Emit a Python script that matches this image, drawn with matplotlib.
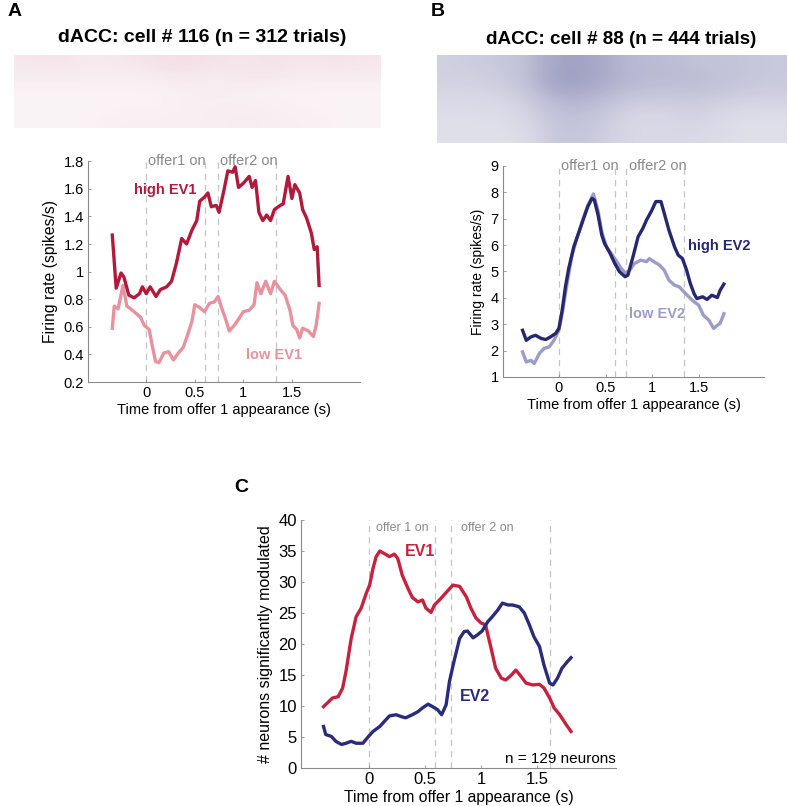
import numpy as np
import matplotlib
matplotlib.use("Agg")
from matplotlib import pyplot as plt
from matplotlib.colors import LinearSegmentedColormap

plt.rcParams['font.family'] = ['Liberation Sans', 'DejaVu Sans']

# ---- panel A: dACC cell 116 ----
tA_high = [-0.35, -0.31, -0.26, -0.23, -0.18, -0.125, -0.07, -0.04, 0.0, 0.04, 0.1, 0.145,
           0.21, 0.26, 0.31, 0.365, 0.415, 0.47, 0.52, 0.55, 0.6, 0.635, 0.67, 0.72, 0.75,
           0.8, 0.84, 0.89, 0.915, 0.95, 1.0, 1.06, 1.09, 1.125, 1.16, 1.2, 1.24, 1.28,
           1.32, 1.38, 1.41, 1.46, 1.5, 1.53, 1.58, 1.61, 1.65, 1.7, 1.73, 1.76, 1.78]
high_EV1 = [1.265, 0.88, 0.99, 0.96, 0.83, 0.81, 0.84, 0.89, 0.84, 0.89, 0.82, 0.87,
            0.89, 0.93, 1.06, 1.24, 1.2, 1.3, 1.37, 1.51, 1.54, 1.57, 1.47, 1.48, 1.43,
            1.59, 1.73, 1.72, 1.76, 1.61, 1.64, 1.69, 1.61, 1.66, 1.43, 1.37, 1.41, 1.37,
            1.45, 1.48, 1.49, 1.69, 1.53, 1.63, 1.57, 1.45, 1.39, 1.28, 1.16, 1.18, 0.9]
tA_low = [-0.35, -0.33, -0.29, -0.24, -0.2, -0.16, -0.11, -0.06, -0.02, 0.03, 0.06, 0.095,
          0.13, 0.18, 0.23, 0.28, 0.33, 0.38, 0.43, 0.47, 0.5, 0.55, 0.6, 0.65, 0.7, 0.74,
          0.77, 0.82, 0.855, 0.905, 0.955, 1.0, 1.06, 1.11, 1.14, 1.18, 1.23, 1.28, 1.32,
          1.38, 1.43, 1.48, 1.51, 1.55, 1.58, 1.61, 1.67, 1.72, 1.75, 1.78]
low_EV1 = [0.59, 0.75, 0.73, 0.9, 0.75, 0.73, 0.70, 0.67, 0.61, 0.58, 0.47, 0.35,
           0.34, 0.41, 0.42, 0.36, 0.41, 0.45, 0.55, 0.64, 0.76, 0.74, 0.71, 0.77, 0.78, 0.82,
           0.75, 0.65, 0.57, 0.61, 0.66, 0.71, 0.72, 0.76, 0.92, 0.84, 0.93, 0.84, 0.93,
           0.87, 0.83, 0.72, 0.61, 0.58, 0.52, 0.59, 0.57, 0.53, 0.61, 0.77]

# ---- panel B: dACC cell 88 ----
tB_high = [-0.39, -0.35, -0.3, -0.25, -0.19, -0.14, -0.09, -0.035, 0.0, 0.035, 0.07, 0.105,
           0.16, 0.21, 0.265, 0.31, 0.355, 0.38, 0.42, 0.46, 0.49, 0.55, 0.6, 0.65, 0.71,
           0.74, 0.795, 0.85, 0.9, 0.94, 0.99, 1.04, 1.095, 1.14, 1.18, 1.24, 1.28, 1.325,
           1.37, 1.41, 1.45, 1.48, 1.54, 1.59, 1.64, 1.7, 1.73, 1.77]
high_EV2 = [2.77, 2.39, 2.52, 2.58, 2.46, 2.42, 2.52, 2.65, 2.84, 3.53, 4.42, 5.11,
            5.94, 6.44, 7.01, 7.46, 7.77, 7.71, 7.14, 6.38, 6.06, 5.68, 5.3, 4.99, 4.8,
            4.86, 5.56, 6.32, 6.63, 6.95, 7.27, 7.65, 7.65, 7.08, 6.57, 5.94, 5.62, 5.49,
            5.05, 4.54, 4.16, 3.97, 4.04, 3.94, 4.1, 4.01, 4.29, 4.52]
tB_low = [-0.39, -0.35, -0.3, -0.265, -0.21, -0.16, -0.105, -0.053, 0.0, 0.035, 0.088,
          0.14, 0.2, 0.26, 0.31, 0.37, 0.42, 0.46, 0.51, 0.6, 0.67, 0.72, 0.76, 0.81, 0.88,
          0.94, 0.97, 1.02, 1.08, 1.13, 1.18, 1.24, 1.29, 1.36, 1.43, 1.5, 1.55, 1.61, 1.66,
          1.7, 1.73, 1.77]
low_EV2 = [1.95, 1.57, 1.63, 1.51, 1.89, 2.08, 2.14, 2.39, 2.77, 3.4, 4.54,
           5.6, 6.35, 7.0, 7.5, 7.94, 7.3, 6.5, 5.94, 5.49, 5.11, 4.92, 5.05, 5.3, 5.43,
           5.37, 5.49, 5.37, 5.24, 5.05, 4.67, 4.48, 4.42, 4.16, 3.91, 3.72, 3.34, 3.15, 2.84,
           2.96, 3.03, 3.4]

# ---- panel C: population counts ----
tC_ev1 = [-0.4, -0.36, -0.32, -0.27, -0.23, -0.2, -0.154, -0.11, -0.065, -0.02, 0.01, 0.04,
          0.068, 0.1, 0.14, 0.186, 0.23, 0.26, 0.3, 0.35, 0.39, 0.44, 0.48, 0.51, 0.556,
          0.586, 0.63, 0.69, 0.75, 0.81, 0.87, 0.91, 0.955, 1.0, 1.04, 1.09, 1.13, 1.18,
          1.22, 1.27, 1.31, 1.355, 1.4, 1.46, 1.52, 1.56, 1.61, 1.65, 1.7, 1.75, 1.8]
ev1_count = [9.9, 10.6, 11.3, 11.5, 12.9, 15.6, 20.9, 24.4, 25.8, 28.2, 29.5, 32.2,
             34.1, 35.0, 34.6, 34.1, 34.5, 33.8, 31.1, 29.0, 27.5, 26.8, 27.1, 25.8, 25.1,
             26.3, 27.1, 28.3, 29.5, 29.3, 27.6, 25.8, 24.2, 23.4, 23.1, 19.3, 16.1, 14.5,
             14.2, 15.0, 15.8, 14.8, 13.7, 13.4, 13.5, 12.9, 11.3, 9.7, 8.6, 7.2, 5.9]
tC_ev2 = [-0.4, -0.38, -0.33, -0.29, -0.24, -0.2, -0.154, -0.11, -0.05, 0.0, 0.04, 0.1,
          0.14, 0.186, 0.245, 0.29, 0.33, 0.39, 0.44, 0.48, 0.53, 0.57, 0.615, 0.65, 0.69,
          0.72, 0.76, 0.81, 0.85, 0.88, 0.93, 0.97, 1.01, 1.06, 1.1, 1.15, 1.19, 1.24, 1.28,
          1.34, 1.385, 1.43, 1.47, 1.52, 1.56, 1.61, 1.64, 1.68, 1.72, 1.77, 1.8]
ev2_count = [6.7, 5.4, 5.1, 4.3, 3.8, 4.0, 4.3, 4.0, 4.0, 5.1, 5.9, 6.7,
             7.5, 8.4, 8.6, 8.3, 8.1, 8.6, 9.1, 9.7, 10.3, 9.9, 9.4, 8.6, 10.2,
             14.0, 17.2, 20.9, 22.0, 22.1, 21.0, 21.5, 22.1, 23.6, 24.4, 25.5, 26.6, 26.3, 26.3,
             26.0, 25.0, 23.1, 21.2, 19.6, 16.6, 13.7, 13.4, 14.5, 16.1, 17.2, 17.8]

# raster spike density, rough grid (rows top->bottom)
rasterA = [[0.10, 0.12, 0.08, 0.10, 0.12, 0.14, 0.12, 0.10, 0.12, 0.10, 0.12, 0.10],
           [0.08, 0.08, 0.08, 0.07, 0.08, 0.10, 0.08, 0.10, 0.10, 0.08, 0.08, 0.08],
           [0.05, 0.05, 0.05, 0.05, 0.05, 0.07, 0.07, 0.07, 0.05, 0.05, 0.05, 0.05],
           [0.05, 0.05, 0.05, 0.05, 0.05, 0.07, 0.07, 0.07, 0.07, 0.05, 0.05, 0.05],
           [0.05, 0.05, 0.05, 0.07, 0.07, 0.07, 0.07, 0.08, 0.07, 0.07, 0.05, 0.05]]
rasterB = [[0.22, 0.25, 0.28, 0.45, 0.42, 0.32, 0.32, 0.28, 0.28, 0.25],
           [0.22, 0.22, 0.28, 0.48, 0.42, 0.34, 0.32, 0.32, 0.28, 0.25],
           [0.18, 0.18, 0.22, 0.36, 0.34, 0.25, 0.25, 0.25, 0.22, 0.22],
           [0.15, 0.15, 0.18, 0.30, 0.28, 0.18, 0.18, 0.22, 0.15, 0.15],
           [0.15, 0.15, 0.15, 0.28, 0.25, 0.18, 0.18, 0.18, 0.15, 0.15]]

red_dark = '#b21a3c'
red_light = '#e8929e'
navy = '#26286f'
lav = '#9c9cca'
c_red = '#c8213d'
c_navy = '#2b2b7c'
gray = '#8a8a8a'
dash_col = '#c4c4c4'

fig = plt.figure(figsize=(7.88, 8.06), dpi=100)


def style_ax(ax, lsize=10.5):
    for s in ['top', 'right']:
        ax.spines[s].set_visible(False)
    for s in ['left', 'bottom']:
        ax.spines[s].set_color(gray)
        ax.spines[s].set_linewidth(0.8)
    ax.tick_params(direction='in', length=2, width=0.6, color=gray,
                   labelsize=lsize, pad=3)
    ax.set_xlim(-0.6, 2.2)
    ax.set_xticks([0, 0.5, 1, 1.5])
    ax.set_xticklabels(['0', '0.5', '1', '1.5'])


def raster(rect, grid, color):
    ax = fig.add_axes(rect)
    cmap = LinearSegmentedColormap.from_list('r', ['white', color])
    ax.imshow(np.array(grid), cmap=cmap, vmin=0, vmax=1, aspect='auto',
              interpolation='bicubic')
    ax.axis('off')
    return ax


# panel A
raster([0.018, 0.841, 0.4645, 0.0906], rasterA, '#a01040')
fig.text(202 / 788, 1 - 38 / 806, 'dACC: cell # 116 (n = 312 trials)', ha='center',
         va='center', fontsize=14, fontweight='bold')
axA = fig.add_axes([0.1117, 0.526, 0.345, 0.274])
style_ax(axA)
axA.set_ylim(0.2, 1.8)
axA.set_yticks(np.arange(0.2, 1.81, 0.2))
axA.set_yticklabels(['0.2', '0.4', '0.6', '0.8', '1', '1.2', '1.4', '1.6', '1.8'])
for v in [0, 0.6, 0.74, 1.34]:
    axA.axvline(v, color=dash_col, lw=0.9, ls=(0, (5, 4)), zorder=0)
axA.plot(tA_low, low_EV1, color=red_light, lw=2.4)
axA.plot(tA_high, high_EV1, color=red_dark, lw=2.4)
axA.text(0.015, 1.8, 'offer1 on', color=gray, fontsize=10.5, va='center')
axA.text(0.755, 1.8, 'offer2 on', color=gray, fontsize=10.5, va='center')
axA.text(-0.13, 1.59, 'high EV1', color=red_dark, fontsize=10.5, fontweight='bold',
         va='center')
axA.text(1.03, 0.395, 'low EV1', color=red_light, fontsize=10.5, fontweight='bold',
         va='center')
axA.set_ylabel('Firing rate (spikes/s)', fontsize=11.3)
axA.set_xlabel('Time from offer 1 appearance (s)', fontsize=10.5, labelpad=2)

# panel B
raster([0.5546, 0.8226, 0.444, 0.109], rasterB, '#2a2a78')
fig.text(621 / 788, 1 - 40 / 806, 'dACC: cell # 88 (n = 444 trials)', ha='center',
         va='center', fontsize=13.6, fontweight='bold')
axB = fig.add_axes([0.6383, 0.5323, 0.3312, 0.2618])
style_ax(axB)
axB.set_ylim(1, 9)
axB.set_yticks(range(1, 10))
for v in [0, 0.6, 0.72, 1.34]:
    axB.axvline(v, color=dash_col, lw=0.9, ls=(0, (5, 4)), zorder=0)
axB.plot(tB_low, low_EV2, color=lav, lw=2.4)
axB.plot(tB_high, high_EV2, color=navy, lw=2.4)
axB.text(0.02, 9, 'offer1 on', color=gray, fontsize=10.5, va='center')
axB.text(0.75, 9, 'offer2 on', color=gray, fontsize=10.5, va='center')
axB.text(1.38, 5.95, 'high EV2', color=navy, fontsize=10.5, fontweight='bold',
         va='center')
axB.text(0.75, 3.4, 'low EV2', color=lav, fontsize=10.5, fontweight='bold',
         va='center')
axB.set_ylabel('Firing rate (spikes/s)', fontsize=10)
axB.set_xlabel('Time from offer 1 appearance (s)', fontsize=10.5, labelpad=2)

# panel C
axC = fig.add_axes([0.382, 0.0471, 0.3997, 0.3077])
style_ax(axC, lsize=12)
axC.set_ylim(0, 40)
axC.set_yticks(range(0, 41, 5))
for v in [0, 0.59, 0.73, 1.61]:
    axC.axvline(v, color=dash_col, lw=0.9, ls=(0, (5, 4)), zorder=0)
axC.plot(tC_ev1, ev1_count, color=c_red, lw=2.4)
axC.plot(tC_ev2, ev2_count, color=c_navy, lw=2.4)
axC.text(0.07, 38.7, 'offer 1 on', color=gray, fontsize=9, va='center')
axC.text(0.82, 38.7, 'offer 2 on', color=gray, fontsize=9, va='center')
axC.text(0.32, 35.0, 'EV1', color=c_red, fontsize=11.5, fontweight='bold', va='center')
axC.text(0.81, 11.5, 'EV2', color=c_navy, fontsize=11.5, fontweight='bold', va='center')
axC.text(2.2, 1.5, 'n = 129 neurons', ha='right', fontsize=11, va='center')
axC.set_ylabel('# neurons significantly modulated', fontsize=11.5)
axC.set_xlabel('Time from offer 1 appearance (s)', fontsize=11.3, labelpad=2)

fig.text(8 / 788, 1 - 12 / 806, 'A', fontsize=14, fontweight='bold', va='center')
fig.text(431 / 788, 1 - 12 / 806, 'B', fontsize=14, fontweight='bold', va='center')
fig.text(234 / 788, 1 - 487 / 806, 'C', fontsize=14, fontweight='bold', va='center')

fig.savefig('out.png', dpi=100)
